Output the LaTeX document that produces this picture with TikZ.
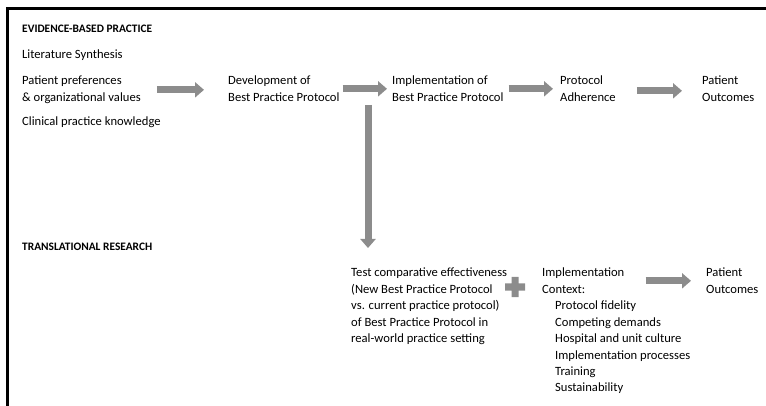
\documentclass[tikz,border=0pt]{standalone}
\usepackage{fontspec}
\setmainfont{Carlito}
\usetikzlibrary{arrows.meta,positioning}

\colorlet{arrowgray}{black!45}
\tikzset{
  txt/.style={anchor=north west, inner sep=0pt, align=left,
    font=\fontsize{12.6}{16.4}\selectfont},
  head/.style={txt, font=\fontsize{11.4}{16}\selectfont\bfseries},
  fat/.style={line width=7pt, draw=arrowgray,
    -{Triangle[width=15pt,length=9pt]}},
}

\begin{document}
\begin{tikzpicture}[x=1pt, y=-1pt]
  \useasboundingbox (0,0) rectangle (766,406);
  \draw[line width=3pt, line join=miter] (7.5,406) -- (7.5,8.5) -- (766,8.5);

  % evidence-based practice
  \node[head] (ebp) at (22,24.5) {EVIDENCE-BASED PRACTICE};
  \node[txt] (lit) at (22,50) {Literature Synthesis};
  \node[txt] (pref) at (22,76) {Patient preferences\\\& organizational values};
  \node[txt] (clin) at (22,117) {Clinical practice knowledge};
  \node[txt] (dev) at (228,76) {Development of\\Best Practice Protocol};
  \node[txt] (impl) at (392,76) {Implementation of\\Best Practice Protocol};
  \node[txt] (adh) at (560,76) {Protocol\\Adherence};
  \node[txt] (out1) at (702,76) {Patient\\Outcomes};

  % translational research
  \node[head] (tr) at (22,242.5) {TRANSLATIONAL RESEARCH};
  \node[txt] (test) at (351,268) {Test comparative effectiveness\\(New Best Practice Protocol\\vs. current practice protocol)\\of Best Practice Protocol in\\real-world practice setting};
  \node[txt] (ctx) at (542,268) {Implementation\\Context:};
  \node[txt] (factors) at (555,301) {Protocol fidelity\\Competing demands\\Hospital and unit culture\\Implementation processes\\Training\\Sustainability};
  \node[txt] (out2) at (706,268) {Patient\\Outcomes};

  \coordinate (split) at (368,88);
  \coordinate (plus) at (515,287);
  \fill[arrowgray] (plus) ++(-10,-3.5) rectangle ++(20,7)
                   (plus) ++(-3.5,-10) rectangle ++(7,20);

  \draw[fat, shorten <=16pt, shorten >=24pt] (pref.east) -- (pref.east -| dev.west);
  \draw[fat, shorten <=3pt, shorten >=5pt] (dev.east) -- (dev.east -| impl.west);
  \draw[fat, shorten <=5pt, shorten >=7pt] (impl.east) -- (impl.east -| adh.west);
  \draw[fat, shorten <=21pt, shorten >=20pt] ([yshift=-2pt]adh.east) -- ([yshift=-2pt]adh.east -| out1.west);
  \draw[fat, shorten <=17pt, shorten >=20pt] (split) -- (split |- test.north);
  \draw[fat, shorten <=21pt, shorten >=15pt] (ctx.east) -- (ctx.east -| out2.west);
\end{tikzpicture}
\end{document}
